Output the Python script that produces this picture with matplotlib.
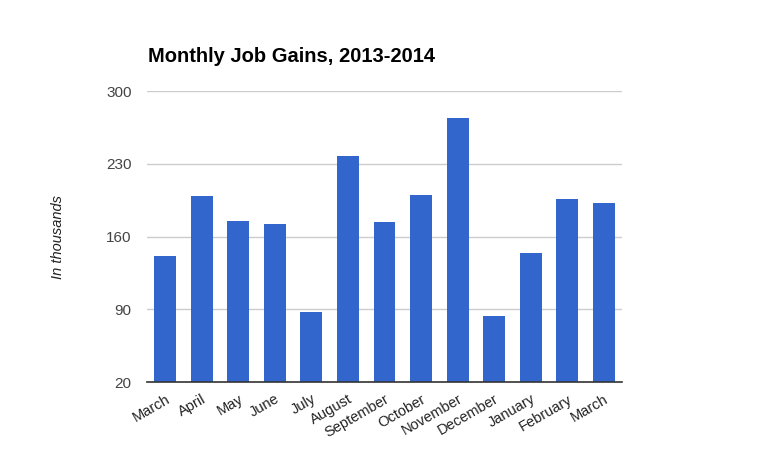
import matplotlib.pyplot as plt
import numpy as np

months = ['March', 'April', 'May', 'June', 'July', 'August', 'September',
          'October', 'November', 'December', 'January', 'February', 'March']
gains = [141, 199, 175, 172, 88, 238, 174, 200, 274, 84, 144, 196, 192]
yticks = [20, 90, 160, 230, 300]

plt.rcParams['font.family'] = ['Liberation Sans', 'DejaVu Sans']

fig = plt.figure(figsize=(7.68, 4.74), dpi=100)
ax = fig.add_axes([147 / 768, 1 - 382.3 / 474, 475 / 768, (382.3 - 91) / 474])

x = np.arange(len(months))
ax.bar(x, np.array(gains) - 20, bottom=20, width=0.6, color='#3366cc', zorder=3)

ax.set_xlim(-0.5, len(months) - 0.5)
ax.set_ylim(20, 300)
ax.set_yticks(yticks)
ax.set_yticklabels([str(t) for t in yticks], color='#444444', fontsize=11)
ax.set_xticks(x)
ax.set_xticklabels(months, rotation=30, ha='right', rotation_mode='anchor',
                   color='#222222', fontsize=10.5)
ax.tick_params(axis='both', length=0)
ax.tick_params(axis='y', pad=11)
ax.tick_params(axis='x', pad=7)

ax.grid(axis='y', color='#cccccc', linewidth=1, zorder=0)
for side in ['top', 'right', 'left']:
    ax.spines[side].set_visible(False)
ax.spines['bottom'].set_color('#333333')
ax.spines['bottom'].set_linewidth(1.2)
ax.spines['bottom'].set_zorder(4)

ax.set_ylabel('In thousands', style='italic', color='#222222', fontsize=10.5,
              labelpad=30)
fig.text(148 / 768, 1 - 57 / 474, 'Monthly Job Gains, 2013-2014',
         fontsize=14.5, fontweight='bold', color='black', va='center')

fig.savefig('out.png', dpi=100)
